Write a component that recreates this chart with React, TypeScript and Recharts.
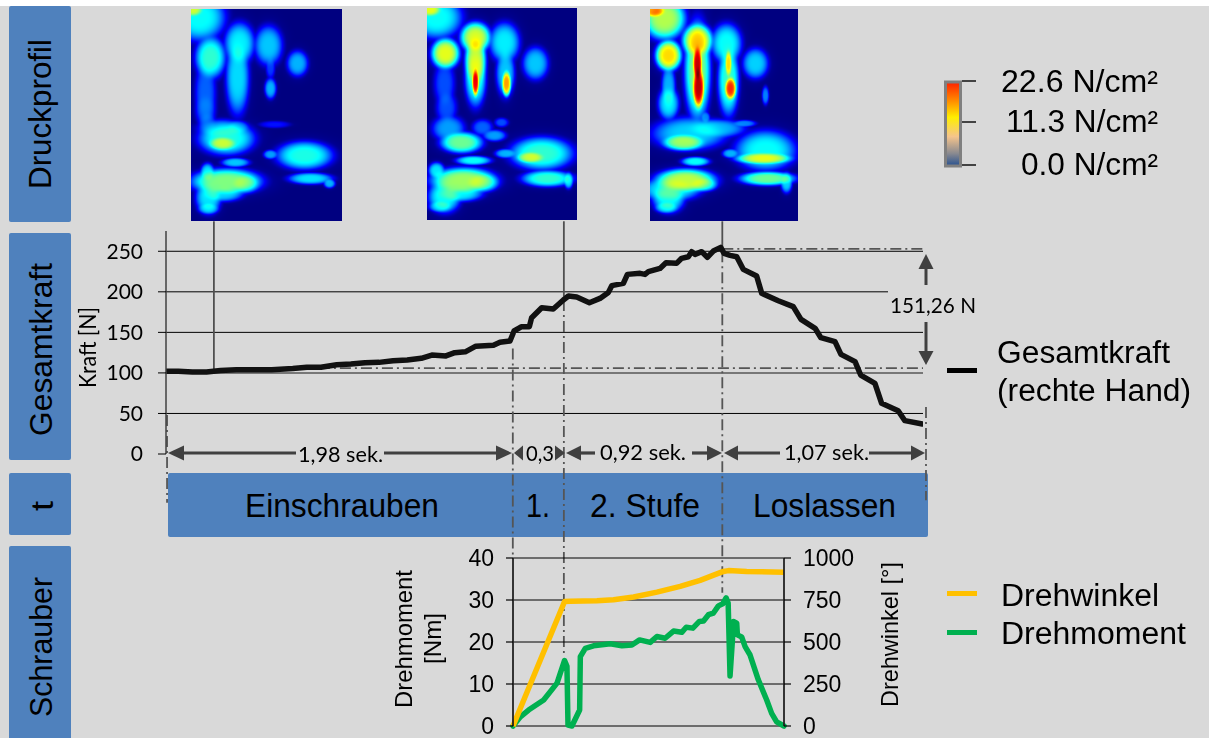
import React, { useEffect, useRef } from "react";
import { ComposedChart, Line, XAxis, YAxis, CartesianGrid, ReferenceLine } from "recharts";

const W = 1209, H = 738;
const ARIAL = "'Liberation Sans', Arial, sans-serif";
const CALI = "Lato, sans-serif";

// Gesamtkraft
const kraftZeit = [0,.07,.15,.23,.31,.40,.48,.60,.72,.80,.88,.97,1.05,1.13,1.21,1.29,1.37,1.45,1.51,1.59,1.64,1.70,1.76,1.86,1.897,1.954,1.977,2.02,2.064,2.077,2.134,2.2,2.257,2.286,2.333,2.405,2.465,2.513,2.532,2.598,2.621,2.693,2.721,2.74,2.806,2.84,2.9,2.929,2.967,2.986,3.005,3.043,3.075,3.109,3.151,3.17,3.204,3.242,3.279,3.355,3.384,3.478,3.563,3.607,3.687,3.72,3.8,3.834,3.914,3.946,4.027,4.065,4.159,4.197,4.296];
const kraftWerte = [102,102,101,101,103,104,104,104,105.5,107,107,110,111,112.5,113,115,116,118,122,121,125,126,133,134,137.7,139.3,151.7,157,157,168.1,180.4,178.8,189.9,194.8,193.6,186.6,191.9,199.3,207.6,210.4,221.5,222.8,221.5,224.8,228.9,235.9,235.1,241.3,243.3,249.5,246.2,249.5,242.5,250.3,254.8,247.4,245,243.3,227.7,219.5,198.1,189,181.7,166,155,143.4,138.5,122.9,113.9,97.4,87.1,62.5,53.4,41.1,37];
const kraftTicks = [0,50,100,150,200,250];

// Schrauber
const momentZeit = [0,.043,.091,.179,.257,.286,.301,.315,.321,.344,.389,.393,.422,.47,.568,.636,.694,.739,.801,.84,.888,.937,.985,1.011,1.05,1.088,1.112,1.141,1.17,1.199,1.224,1.244,1.256,1.267,1.281,1.287,1.306,1.31,1.335,1.355,1.384,1.432,1.481,1.51,1.539,1.582];
const momentWerte = [0,2.2,3.8,6.2,10.2,13.8,15.6,14.2,.2,0,3.8,16.5,18.5,19.1,19.6,19.1,19.3,20.5,19.9,21.3,20.9,22.6,22.3,23.5,23.3,24.9,25,26.5,26.9,28.6,29.1,30.5,29.3,11.9,20.5,24.9,24.5,21.7,21.2,18.9,16.9,11,6.2,3,1,0];
const winkelZeit = [0,.301,.334,.49,.587,.704,.84,.976,1.092,1.228,1.258,1.364,1.582];
const winkelWerte = [0,741,742,746,752,768,797,831,867,920,925,920,915];
const momentTicks = [0,10,20,30,40];
const winkelTicks = [0,250,500,750,1000];

const kraftRows = kraftZeit.map((t, i) => ({ t, kraft: kraftWerte[i] }));
const momentRows = momentZeit.map((t, i) => ({ t, moment: momentWerte[i] }));
const winkelRows = winkelZeit.map((t, i) => ({ t, winkel: winkelWerte[i] }));

// Druckprofil: cx, cy, rx, ry, peak
type Blob = number[];
const profil1: Blob[] = [[8,8,22,20,.38],[1,0,9,6,.52],[19,48,13,18,.42],[14,84,9,30,.22],[14,101,9,14,.18],[48,34,13,18,.36],[46,68,10,32,.34],[77,36,12,17,.32],[79,58,4,10,.18],[79,79,5,9,.3],[106,54,9,11,.3],[35,129,24,14,.4],[29,119,20,8,.25],[46,118,10,6,.25],[31,134,12,6,.5],[16,114,8,10,.18],[83,115,13,3,.14],[113,146,24,12,.4],[79,145,6,4,.28],[44,153,12,4,.32],[119,169,19,5,.35],[138,174,5,4,.3],[35,172,30,11,.5],[54,174,12,8,.35],[17,188,11,14,.35],[17,199,9,5,.3],[16,163,6,8,.35],[31,184,18,7,.33]];
const profil2: Blob[] = [[9,9,22,18,.38],[2,1,10,6,.55],[18,45,12,13,.6],[17,75,9,20,.2],[19,99,9,14,.2],[48,29,13,13,.58],[48,52,9,22,.55],[48,74,3,12,.85],[48,69,9,25,.4],[77,34,13,17,.36],[78,65,8,20,.32],[79,75,4,11,.7],[108,55,11,14,.32],[34,134,18,9,.48],[21,120,14,11,.28],[55,119,9,7,.22],[67,127,10,5,.28],[74,114,6,4,.2],[114,145,27,14,.42],[103,149,12,5,.5],[78,145,9,4,.3],[46,152,15,4,.38],[120,170,22,7,.42],[141,172,4,7,.35],[36,172,28,11,.53],[55,174,14,8,.38],[17,188,14,14,.38],[13,198,10,5,.32],[9,162,7,7,.35],[32,185,20,7,.36]];
const profil3: Blob[] = [[14,9,18,18,.55],[3,1,10,6,.68],[18,46,11,13,.66],[18,78,6,20,.3],[18,94,9,14,.35],[47,31,13,14,.62],[47,54,4,15,.88],[48,78,5,18,.9],[47,61,11,42,.5],[76,34,13,17,.38],[78,54,3,12,.6],[80,79,5,10,.8],[78,71,9,30,.42],[105,54,11,13,.33],[115,86,3,8,.25],[33,133,18,7,.5],[39,124,32,14,.33],[66,119,25,8,.3],[94,114,10,3,.25],[55,108,4,5,.25],[115,141,26,17,.38],[113,149,24,5,.55],[80,144,7,4,.3],[45,152,12,4,.38],[117,169,24,6,.48],[136,173,5,9,.33],[35,171,26,10,.56],[53,175,12,6,.38],[18,188,14,13,.38],[16,198,10,5,.33],[20,180,26,10,.36]];

const clamp = (v: number) => Math.max(0, Math.min(1, v));

function Profil({ blobs, x, y, w, h }: { blobs: Blob[]; x: number; y: number; w: number; h: number }) {
  const ref = useRef<HTMLCanvasElement>(null);
  useEffect(() => {
    const c = ref.current;
    if (!c) return;
    const ctx = c.getContext("2d");
    if (!ctx) return;
    const img = ctx.createImageData(w, h);
    for (let py = 0; py < h; py++) {
      for (let px = 0; px < w; px++) {
        let s = 0;
        for (const [cx, cy, rx, ry, p] of blobs) {
          const d2 = ((px - cx) / rx) ** 2 + ((py - cy) / ry) ** 2;
          if (d2 > 9) continue;
          const core = p * Math.exp(-Math.pow(d2 * 0.72, 2));
          const halo = Math.min(0.13, p * 0.5 * Math.exp(-d2 * 1.0));
          s += Math.max(core, halo) ** 3;
        }
        const v = Math.pow(s, 1 / 3);
        const i = (py * w + px) * 4;
        img.data[i] = 255 * clamp(1.5 - Math.abs(4 * v - 3));
        img.data[i + 1] = 255 * clamp(1.5 - Math.abs(4 * v - 2));
        img.data[i + 2] = 255 * clamp(1.5 - Math.abs(4 * v - 1));
        img.data[i + 3] = 255;
      }
    }
    ctx.putImageData(img, 0, 0);
  }, [blobs, w, h]);
  return <canvas ref={ref} width={w} height={h} style={{ position: "absolute", left: x, top: y, display: "block" }} />;
}

function FitText({ x0, x1, y, size, children, font = ARIAL, fill = "#000" }: any) {
  return (
    <text x={x0} y={y} fontFamily={font} fontSize={size} fill={fill} textLength={x1 - x0} lengthAdjust="spacingAndGlyphs">
      {children}
    </text>
  );
}

function VertText({ x, y0, y1, size, children, font = ARIAL, fill = "#000" }: any) {
  return (
    <text transform={`translate(${x},${y1}) rotate(-90)`} fontFamily={font} fontSize={size} fill={fill} textLength={y1 - y0} lengthAdjust="spacingAndGlyphs">
      {children}
    </text>
  );
}

const ARROW = "#404040";
function HArrow({ tip, base, end, y = 453 }: { tip: number; base: number; end: number; y?: number }) {
  return (
    <g>
      <polygon points={`${tip},${y} ${base},${y - 7.5} ${base},${y + 7.5}`} fill={ARROW} />
      {end !== base && <line x1={base} x2={end} y1={y} y2={y} stroke={ARROW} strokeWidth={3.2} />}
    </g>
  );
}
function VArrow({ tip, base, end, x = 926 }: { tip: number; base: number; end: number; x?: number }) {
  return (
    <g>
      <polygon points={`${x},${tip} ${x - 7.5},${base} ${x + 7.5},${base}`} fill={ARROW} />
      <line y1={base} y2={end} x1={x} x2={x} stroke={ARROW} strokeWidth={3} />
    </g>
  );
}

const BLUE = "#4f81bd";
const GREY = "#d9d9d9";
const DASH = "11 4 2 4";
const DASHC = "#555";
const layer: React.CSSProperties = { position: "absolute", left: 0, top: 0 };

export default function App() {
  return (
    <div style={{ position: "absolute", left: 0, top: 0, width: W, height: H, overflow: "hidden", background: "#fff" }}>
      <div style={{ position: "absolute", left: 0, top: 6, width: W, height: H - 6, background: GREY }} />

      <svg width={W} height={H} style={layer}>
        <rect x={9} y={6} width={62} height={216} rx={2} fill={BLUE} />
        <rect x={9} y={233} width={62} height={227} rx={2} fill={BLUE} />
        <rect x={9} y={473} width={62} height={62} rx={2} fill={BLUE} />
        <rect x={9} y={546} width={62} height={200} rx={2} fill={BLUE} />
        <rect x={168} y={473} width={760} height={64} rx={2} fill={BLUE} />
        <VertText x={51} y0={39} y1={189} size={32}>Druckprofil</VertText>
        <VertText x={52} y0={263} y1={436} size={32}>Gesamtkraft</VertText>
        <VertText x={53} y0={501} y1={511} size={32}>t</VertText>
        <VertText x={52} y0={577} y1={717} size={32}>Schrauber</VertText>
        <FitText x0={245} x1={439} y={517} size={33}>Einschrauben</FitText>
        <FitText x0={526} x1={550} y={517} size={33}>1.</FitText>
        <FitText x0={590} x1={700} y={517} size={33}>2. Stufe</FitText>
        <FitText x0={753} x1={896} y={517} size={33}>Loslassen</FitText>
      </svg>

      <Profil blobs={profil1} x={191} y={9} w={151} h={212} />
      <Profil blobs={profil2} x={427} y={8} w={150} h={212} />
      <Profil blobs={profil3} x={650} y={9} w={148} h={212} />

      <div style={layer}>
        <ComposedChart width={W} height={H} margin={{ left: 106, right: 286, top: 231, bottom: 284 }} style={{ background: "transparent" }}>
          <CartesianGrid horizontal vertical={false} stroke="#000" strokeWidth={1} horizontalValues={[50, 150, 200, 250]} />
          <XAxis xAxisId={0} type="number" dataKey="t" domain={[0, 4.3]} hide allowDataOverflow />
          <YAxis
            width={60}
            domain={[0, 275]}
            ticks={kraftTicks}
            interval={0}
            tickSize={8}
            tickMargin={15}
            tick={{ fontFamily: CALI, fontSize: 21, fill: "#000" }}
            axisLine={{ stroke: "#404040", strokeWidth: 1.5 }}
            tickLine={{ stroke: "#000", strokeWidth: 1 }}
          />
          <ReferenceLine y={100} stroke="#777" strokeWidth={2} />
          {/* connectors from pressure images to the curve */}
          <ReferenceLine segment={[{ x: 0.272, y: 287 }, { x: 0.272, y: 103 }]} stroke="#505050" strokeWidth={1.8} ifOverflow="visible" />
          <ReferenceLine segment={[{ x: 2.26, y: 287 }, { x: 2.26, y: 194 }]} stroke="#505050" strokeWidth={1.8} ifOverflow="visible" />
          <ReferenceLine segment={[{ x: 3.16, y: 287 }, { x: 3.16, y: 254 }]} stroke="#505050" strokeWidth={1.8} ifOverflow="visible" />
          {/* dash-dot markers */}
          <ReferenceLine segment={[{ x: 3.16, y: 253 }, { x: 4.3, y: 253 }]} stroke={DASHC} strokeWidth={1.8} strokeDasharray={DASH} ifOverflow="visible" />
          <ReferenceLine segment={[{ x: 0.63, y: 106 }, { x: 4.3, y: 106 }]} stroke={DASHC} strokeWidth={1.8} strokeDasharray={DASH} ifOverflow="visible" />
          <ReferenceLine segment={[{ x: 0.006, y: 48 }, { x: 0.006, y: -60 }]} stroke={DASHC} strokeWidth={1.8} strokeDasharray={DASH} ifOverflow="visible" />
          <ReferenceLine segment={[{ x: 1.97, y: 130 }, { x: 1.97, y: -128 }]} stroke={DASHC} strokeWidth={1.8} strokeDasharray={DASH} ifOverflow="visible" />
          <ReferenceLine segment={[{ x: 2.26, y: 190 }, { x: 2.26, y: -250 }]} stroke={DASHC} strokeWidth={1.8} strokeDasharray={DASH} ifOverflow="visible" />
          <ReferenceLine segment={[{ x: 3.16, y: 250 }, { x: 3.16, y: -171 }]} stroke={DASHC} strokeWidth={1.8} strokeDasharray={DASH} ifOverflow="visible" />
          <ReferenceLine segment={[{ x: 4.317, y: 58 }, { x: 4.317, y: -57 }]} stroke={DASHC} strokeWidth={1.8} strokeDasharray={DASH} ifOverflow="visible" />
          <Line data={kraftRows} dataKey="kraft" type="linear" stroke="#111" strokeWidth={5.5} dot={false} strokeLinejoin="round" strokeLinecap="round" isAnimationActive={false} />
        </ComposedChart>
      </div>

      <div style={layer}>
        <ComposedChart width={W} height={H} margin={{ left: 453, right: 365, top: 558, bottom: 12 }} style={{ background: "transparent" }}>
          <CartesianGrid horizontal vertical={false} stroke="#000" strokeWidth={1} yAxisId="m" />
          <XAxis type="number" dataKey="t" domain={[0, 1.582]} tick={false} height={0} tickLine={false} axisLine={{ stroke: "#000", strokeWidth: 1.5 }} />
          <YAxis
            yAxisId="m"
            width={60}
            domain={[0, 40]}
            ticks={momentTicks}
            interval={0}
            tickSize={7}
            tickMargin={12}
            tick={{ fontFamily: ARIAL, fontSize: 23, fill: "#000" }}
            axisLine={{ stroke: "#222", strokeWidth: 1.8 }}
            tickLine={{ stroke: "#000", strokeWidth: 1.2 }}
          />
          <YAxis
            yAxisId="w"
            orientation="right"
            width={60}
            domain={[0, 1000]}
            ticks={winkelTicks}
            interval={0}
            tickSize={7}
            tickMargin={12}
            tick={{ fontFamily: ARIAL, fontSize: 23, fill: "#000" }}
            axisLine={{ stroke: "#222", strokeWidth: 1.8 }}
            tickLine={{ stroke: "#000", strokeWidth: 1.2 }}
          />
          <Line yAxisId="m" data={momentRows} dataKey="moment" type="linear" stroke="#00b050" strokeWidth={5.5} dot={false} strokeLinejoin="round" strokeLinecap="round" isAnimationActive={false} />
          <Line yAxisId="w" data={winkelRows} dataKey="winkel" type="linear" stroke="#ffc000" strokeWidth={5.5} dot={false} strokeLinejoin="round" isAnimationActive={false} />
        </ComposedChart>
      </div>

      <svg width={W} height={H} style={layer}>
        <defs>
          <linearGradient id="skala" x1="0" y1="0" x2="0" y2="1">
            <stop offset="0" stopColor="#ff2000" />
            <stop offset="0.2" stopColor="#ff8000" />
            <stop offset="0.42" stopColor="#ffee00" />
            <stop offset="0.65" stopColor="#f5c48c" />
            <stop offset="0.85" stopColor="#8a8a90" />
            <stop offset="1" stopColor="#26508f" />
          </linearGradient>
        </defs>

        {/* label gap on the 200 grid line */}
        <rect x={888} y={287} width={36} height={32} fill={GREY} />

        <HArrow tip={168} base={184} end={296} />
        <HArrow tip={512} base={496} end={384} />
        <HArrow tip={514} base={523} end={523} />
        <HArrow tip={565} base={555} end={555} />
        <HArrow tip={566} base={581} end={595} />
        <HArrow tip={722} base={707} end={692} />
        <HArrow tip={724} base={738} end={780} />
        <HArrow tip={925} base={911} end={869} />
        <VArrow tip={254} base={269} end={285} />
        <VArrow tip={365} base={351} end={322} />

        <FitText x0={298} x1={383} y={462} size={22} font={CALI}>1,98 sek.</FitText>
        <FitText x0={526} x1={554} y={461} size={22} font={CALI}>0,3</FitText>
        <FitText x0={600} x1={686} y={460} size={22} font={CALI}>0,92 sek.</FitText>
        <FitText x0={784} x1={869} y={460} size={22} font={CALI}>1,07 sek.</FitText>
        <FitText x0={890} x1={976} y={313} size={22} font={CALI}>151,26 N</FitText>

        <VertText x={96} y0={307} y1={388} size={23} font={CALI}>Kraft [N]</VertText>
        <VertText x={412} y0={570} y1={708} size={24}>Drehmoment</VertText>
        <VertText x={441} y0={613} y1={664} size={24}>[Nm]</VertText>
        <VertText x={898} y0={562} y1={707} size={24.5}>Drehwinkel [°]</VertText>

        {/* pressure scale */}
        <rect x={945.5} y={82} width={15} height={84} fill="url(#skala)" stroke="#808080" strokeWidth={3} />
        <line x1={962} x2={976} y1={81} y2={81} stroke="#111" strokeWidth={1.5} />
        <line x1={962} x2={976} y1={122} y2={122} stroke="#111" strokeWidth={1.5} />
        <line x1={962} x2={976} y1={165} y2={165} stroke="#111" strokeWidth={1.5} />
        <FitText x0={1001} x1={1158} y={92} size={31}>22.6 N/cm²</FitText>
        <FitText x0={1006} x1={1158} y={132} size={31}>11.3 N/cm²</FitText>
        <FitText x0={1021} x1={1158} y={175} size={31}>0.0 N/cm²</FitText>

        {/* legend */}
        <rect x={947} y={368} width={30} height={5} fill="#000" />
        <FitText x0={997} x1={1170} y={363} size={31}>Gesamtkraft</FitText>
        <FitText x0={997} x1={1191} y={401} size={31}>(rechte Hand)</FitText>
        <rect x={947} y={591} width={30} height={5} fill="#ffc000" />
        <FitText x0={1001} x1={1159} y={606} size={31}>Drehwinkel</FitText>
        <rect x={947} y={630} width={30} height={5} fill="#00b050" />
        <FitText x0={1001} x1={1186} y={644} size={31}>Drehmoment</FitText>
      </svg>
    </div>
  );
}
